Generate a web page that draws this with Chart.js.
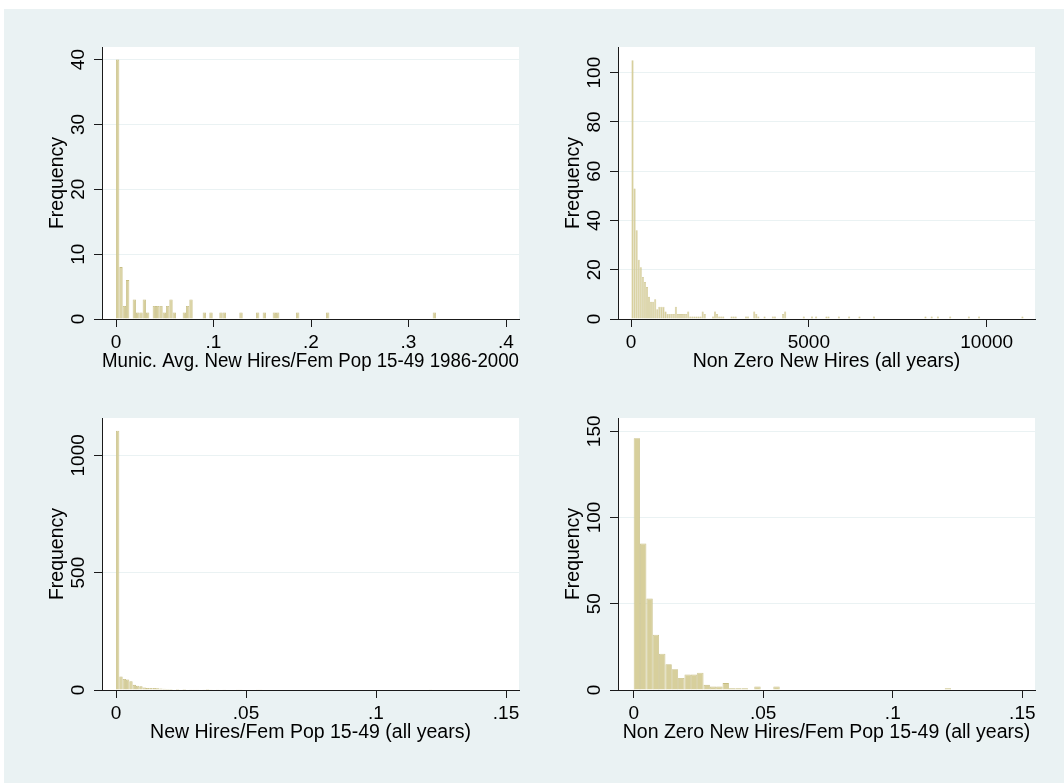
<!DOCTYPE html>
<html>
<head>
<meta charset="utf-8">
<script src="https://cdn.jsdelivr.net/npm/chart.js@4.4.1/dist/chart.umd.min.js"></script>
<style>
html,body{margin:0;padding:0;background:#ffffff;}
body{width:1064px;height:783px;position:relative;overflow:hidden;}
#bg{position:absolute;left:4px;top:9px;right:0;bottom:0;background:#EAF2F3;}
canvas{position:absolute;}
</style>
</head>
<body>
<div id="bg"></div>
<canvas id="c1"></canvas>
<canvas id="c2"></canvas>
<canvas id="c3"></canvas>
<canvas id="c4"></canvas>
<script>
// ---------------- DATA ----------------
// Panel 1: Munic. Avg. New Hires/Fem Pop 15-49 1986-2000
const p1Counts = [40,8,2,6,0,3,1,1,3,1,
  0,2,2,2,1,2,3,1,0,0,
  1,2,3,0,0,0,1,0,1,0,
  0,1,1,0,0,0,0,1,0,0,
  0,0,1,0,1,0,0,1,1,0,
  0,0,0,0,1,0,0,0,0,0,
  0,0,0,1,0,0,0,0,0,0,
  0,0,0,0,0,0,0,0,0,0,
  0,0,0,0,0,0,0,0,0,0,
  0,0,0,0,0,1];
const p1BinStart = 0;
const p1BinWidth = 0.003419;
const p1XTicks = [0, 0.1, 0.2, 0.3, 0.4];
const p1XLabels = ["0", ".1", ".2", ".3", ".4"];
const p1YTicks = [0, 10, 20, 30, 40];
const p1YLabels = ["0", "10", "20", "30", "40"];
const p1XTitle = "Munic. Avg. New Hires/Fem Pop 15-49 1986-2000";

// Panel 2: Non Zero New Hires (all years)
const p2Counts = [105,53,36,24,21,17,15,13,9,7,
  7,8,4,5,5,5,3,2,2,2,
  2,5,2,2,2,2,2,3,1,1,
  1,1,1,1,3,2,0,0,0,1,
  3,2,1,1,1,0,0,0,1,1,
  1,0,0,0,0,1,1,0,0,3,
  2,1,0,0,1,0,0,0,1,1,
  0,0,0,2,3,0,0,0,0,0,
  0,0,0,1,0,0,0,1,0,1,
  0,0,0,0,1,1,0,0,0,0,
  1,0,0,0,0,1,0,0,0,0,
  1,0,0,0,0,0,0,1,0,0,
  0,0,0,0,0,0,0,0,0,0,
  0,0,0,0,0,0,0,0,0,0,
  0,0,1,0,0,1,0,0,1,0,
  0,0,0,0,1,0,0,0,0,0,
  0,0,0,1,0,0,0,0,1,0,
  0,0,0,0,0,0,0,0,0,0,
  0,0,0,0,0,0,0,0,0,1];
const p2BinStart = 14;
const p2BinWidth = 58;
const p2XTicks = [0, 5000, 10000];
const p2XLabels = ["0", "5000", "10000"];
const p2YTicks = [0, 20, 40, 60, 80, 100];
const p2YLabels = ["0", "20", "40", "60", "80", "100"];
const p2XTitle = "Non Zero New Hires (all years)";

// Panel 3: New Hires/Fem Pop 15-49 (all years)
const p3Counts = [1105,57,47,45,37,22,18,16,11,9,
  9,8,7,6,5,4,4,2,4,2,
  4,2,1,1,1,0,1,4,1,0,
  1,0,1,0,0,0,1,1,0,0,
  0,0,1,1,0,0,0,0,0,0,
  0,0,0,0,0,0,0,0,0,0,
  0,0,0,0,0,0,0,0,0,0,
  0,0,0,0,0,0,0,0,0,0,
  0,0,0,0,0,0,0,0,0,0,
  0,0,0,0,1];
const p3BinStart = 0;
const p3BinWidth = 0.00128;
const p3XTicks = [0, 0.05, 0.1, 0.15];
const p3XLabels = ["0", ".05", ".1", ".15"];
const p3YTicks = [0, 500, 1000];
const p3YLabels = ["0", "500", "1000"];
const p3XTitle = "New Hires/Fem Pop 15-49 (all years)";

// Panel 4: Non Zero New Hires/Fem Pop 15-49 (all years)
const p4Counts = [146,85,53,32,21,15,12,7,9,9,
  10,3,2,2,4,1,1,1,0,2,
  0,0,2,0,0,0,0,0,0,0,
  0,0,0,0,0,0,0,0,0,0,
  0,0,0,0,0,0,0,0,0,1];
const p4BinStart = 0;
const p4BinWidth = 0.00245;
const p4XTicks = [0, 0.05, 0.1, 0.15];
const p4XLabels = ["0", ".05", ".1", ".15"];
const p4YTicks = [0, 50, 100, 150];
const p4YLabels = ["0", "50", "100", "150"];
const p4XTitle = "Non Zero New Hires/Fem Pop 15-49 (all years)";

const yTitleText = "Frequency";

// ---------------- STYLE / LAYOUT ----------------
const FAMILY = "'Liberation Sans', Arial, Helvetica, sans-serif";
const TICK_SIZE = 19;
const TITLE_SIZE = 19.5;
const TEXT = '#000000';
const AXIS = '#1a1a1a';
const GRID = '#EAF2F3';
const BAR_FILL = '#D7CF9C';
const BAR_EDGE = '#C6BD82';
const TL = 8;              // tick length
const Y_LABEL_DIST = 23;   // axis -> center of rotated y tick label
const Y_TITLE_DIST = 44.5; // axis -> center of y title
const X_LABEL_DIST = 24;   // axis -> center of x tick label
const X_TITLE_DIST = 42.5; // axis -> center of x title

const mctx = document.createElement('canvas').getContext('2d');
function measure(s, size) { mctx.font = size + 'px ' + FAMILY; return mctx.measureText(s).width; }

const plotBg = {
  id: 'plotBg',
  beforeDraw(chart) {
    const a = chart.chartArea, ctx = chart.ctx;
    ctx.save();
    ctx.fillStyle = '#ffffff';
    ctx.fillRect(a.left, a.top, a.right - a.left, a.bottom - a.top);
    ctx.restore();
  }
};

function makePanel(p) {
  const cv = document.getElementById(p.id);
  const W = p.box.w, H = p.box.h;
  cv.width = W; cv.height = H;
  cv.style.left = p.box.x + 'px'; cv.style.top = p.box.y + 'px';
  cv.style.width = W + 'px'; cv.style.height = H + 'px';
  const yW = p.area.left - p.box.x;
  const xH = p.box.y + H - p.area.bottom;
  const padTop = p.area.top - p.box.y;
  const padRight = p.box.x + W - p.area.right;
  const widest = Math.max.apply(null, p.yLabels.map(s => measure(s, TICK_SIZE)));
  const lhTick = TICK_SIZE * 1.2, lhTitle = TITLE_SIZE * 1.2;
  const data = p.counts.map((c, i) => ({ x: p.start + (i + 0.5) * p.width, y: c }));
  const tickFont = { family: FAMILY, size: TICK_SIZE };
  const titleFont = { family: FAMILY, size: TITLE_SIZE };

  return new Chart(cv, {
    type: 'bar',
    data: {
      datasets: [{
        data: data,
        backgroundColor: BAR_FILL,
        borderColor: BAR_EDGE,
        borderWidth: ctx => (ctx.raw && ctx.raw.y > 0) ? p.bw : 0,
        borderSkipped: 'start',
        barPercentage: 1,
        categoryPercentage: 1,
        inflateAmount: 0
      }]
    },
    options: {
      responsive: false,
      devicePixelRatio: 1,
      animation: false,
      events: [],
      layout: { padding: { top: padTop, right: padRight, left: 0, bottom: 0 } },
      plugins: { legend: { display: false }, tooltip: { enabled: false } },
      scales: {
        x: {
          type: 'linear',
          min: p.xMin, max: p.xMax,
          bounds: 'data',
          offset: false,
          afterBuildTicks: s => { s.ticks = p.xTicks.map(v => ({ value: v })); },
          afterFit: s => { s.height = xH; },
          grid: { display: true, offset: false, drawOnChartArea: false, drawTicks: true,
                  tickLength: TL, tickColor: AXIS, tickWidth: 1, color: AXIS },
          border: { display: true, color: AXIS, width: 1 },
          ticks: { font: tickFont, color: TEXT, autoSkip: false, maxRotation: 0, minRotation: 0,
                   padding: X_LABEL_DIST - TL - lhTick / 2,
                   callback: (v, i) => p.xLabels[i] },
          title: { display: true, text: p.xTitle, font: titleFont, color: TEXT,
                   padding: { top: 0, bottom: xH - X_TITLE_DIST - lhTitle / 2 } }
        },
        y: {
          type: 'linear',
          min: 0, max: p.yMax,
          bounds: 'data',
          afterBuildTicks: s => { s.ticks = p.yTicks.map(v => ({ value: v })); },
          afterFit: s => { s.width = yW; },
          grid: { display: true, drawOnChartArea: true, drawTicks: true, tickLength: TL,
                  color: ctx => (ctx.tick && ctx.tick.value === 0) ? 'rgba(0,0,0,0)' : GRID,
                  lineWidth: 1, tickColor: AXIS, tickWidth: 1 },
          border: { display: true, color: AXIS, width: 1 },
          ticks: { font: tickFont, color: TEXT, autoSkip: false, minRotation: 90, maxRotation: 90,
                   crossAlign: 'center', padding: Y_LABEL_DIST - TL - widest / 2,
                   callback: (v, i) => p.yLabels[i] },
          title: { display: true, text: yTitleText, font: titleFont, color: TEXT,
                   padding: { top: yW - Y_TITLE_DIST - lhTitle / 2, bottom: 0 } }
        }
      }
    },
    plugins: [plotBg]
  });
}

makePanel({ id: 'c1', box: { x: 20, y: 15, w: 517, h: 370 },
  area: { left: 102, top: 47, right: 519, bottom: 319 },
  counts: p1Counts, start: p1BinStart, width: p1BinWidth, bw: 0.8,
  xMin: -0.01436, xMax: 0.41333, yMax: 41.94,
  xTicks: p1XTicks, xLabels: p1XLabels, yTicks: p1YTicks, yLabels: p1YLabels, xTitle: p1XTitle });

makePanel({ id: 'c2', box: { x: 537, y: 15, w: 527, h: 370 },
  area: { left: 618, top: 47, right: 1035, bottom: 319 },
  counts: p2Counts, start: p2BinStart, width: p2BinWidth, bw: 0.5,
  xMin: -365.5, xMax: 11358, yMax: 110.4,
  xTicks: p2XTicks, xLabels: p2XLabels, yTicks: p2YTicks, yLabels: p2YLabels, xTitle: p2XTitle });

makePanel({ id: 'c3', box: { x: 20, y: 386, w: 517, h: 370 },
  area: { left: 102, top: 418, right: 519, bottom: 690 },
  counts: p3Counts, start: p3BinStart, width: p3BinWidth, bw: 0.8,
  xMin: -0.005385, xMax: 0.155, yMax: 1159,
  xTicks: p3XTicks, xLabels: p3XLabels, yTicks: p3YTicks, yLabels: p3YLabels, xTitle: p3XTitle });

makePanel({ id: 'c4', box: { x: 537, y: 386, w: 527, h: 370 },
  area: { left: 618, top: 418, right: 1035, bottom: 690 },
  counts: p4Counts, start: p4BinStart, width: p4BinWidth, bw: 0.8,
  xMin: -0.00606, xMax: 0.1549, yMax: 157.7,
  xTicks: p4XTicks, xLabels: p4XLabels, yTicks: p4YTicks, yLabels: p4YLabels, xTitle: p4XTitle });
</script>
</body>
</html>
